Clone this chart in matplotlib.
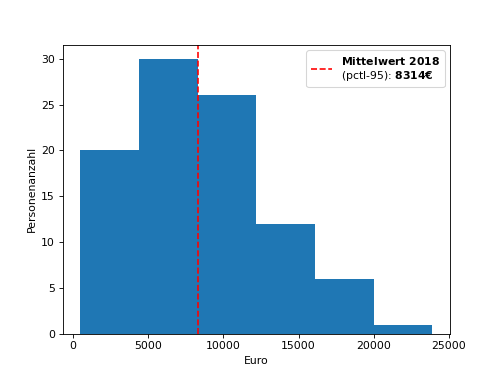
import numpy as np
import matplotlib
matplotlib.use("Agg")
import matplotlib.pyplot as plt

bin_edges = [493, 4393, 8293, 12193, 16093, 19993, 23893]
counts = [20, 30, 26, 12, 6, 1]
mean_value = 8314

fig, ax = plt.subplots(figsize=(6.4, 4.8), dpi=78.125)
edges = np.array(bin_edges)
ax.bar(edges[:-1], counts, width=np.diff(edges), align="edge", color="#1f77b4", linewidth=0)
ax.axvline(mean_value, color="red", linestyle="--",
           label=r"$\bf{Mittelwert\ 2018}$" + "\n(pctl-95): " + r"$\bf{" + str(mean_value) + "€}$")
ax.set_xlabel("Euro")
ax.set_ylabel("Personenanzahl")
ax.legend(loc="upper right")
fig.savefig("out.png", dpi=78.125)
